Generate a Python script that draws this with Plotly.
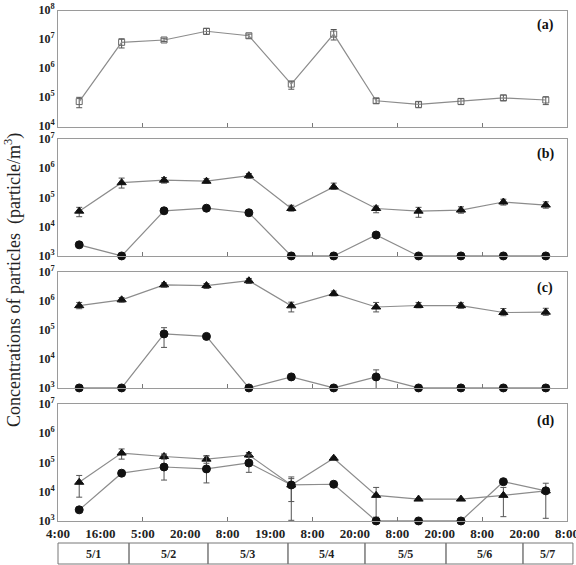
import plotly.graph_objects as go

# ---------------- data ----------------
x_pos = [0.5, 1.5, 2.5, 3.5, 4.5, 5.5, 6.5, 7.5, 8.5, 9.5, 10.5, 11.5]
x_tick_labels = ["4:00", "16:00", "5:00", "20:00", "8:00", "19:00", "8:00",
                 "20:00", "8:00", "20:00", "8:00", "20:00", "8:00"]
dates = ["5/1", "5/2", "5/3", "5/4", "5/5", "5/6", "5/7"]
date_edges = [0.0, 1.674, 3.536, 5.422, 7.237, 9.147, 10.962, 12.14]
panel_labels = ["(a)", "(b)", "(c)", "(d)"]

# panel (a)
a_val = [7.5e4, 8.3e6, 1.0e7, 2.0e7, 1.4e7, 3.0e5, 1.6e7, 8.0e4, 6.0e4, 7.6e4, 1.0e5, 8.5e4]
a_hi = [1.05e5, 1.1e7, 1.15e7, 2.5e7, 1.6e7, 3.8e5, 2.3e7, 9.5e4, 7.4e4, 9.5e4, 1.26e5, 1.1e5]
a_lo = [4.6e4, 5.3e6, 8.8e6, 1.55e7, 1.15e7, 2.0e5, 1.0e7, 6.5e4, 4.6e4, 5.9e4, 8.1e4, 5.9e4]

# panel (b)
b_tri = [3.4e4, 3.2e5, 3.9e5, 3.6e5, 5.6e5, 4.2e4, 2.3e5, 4.2e4, 3.4e4, 3.7e4, 7.0e4, 5.5e4]
b_tri_hi = [4.6e4, 4.6e5, 4.8e5, 4.4e5, 6.6e5, 5.4e4, 3.1e5, 5.1e4, 4.6e4, 4.8e4, 8.7e4, 7.1e4]
b_tri_lo = [2.2e4, 2.1e5, 3.1e5, 3.1e5, 4.5e5, 3.4e4, 1.9e5, 3.0e4, 2.1e4, 2.9e4, 5.5e4, 4.3e4]
b_cir = [2.4e3, 1.0e3, 3.5e4, 4.3e4, 3.0e4, 1.0e3, 1.0e3, 5.2e3, 1.0e3, 1.0e3, 1.0e3, 1.0e3]

# panel (c)
c_tri = [6.9e5, 1.1e6, 3.6e6, 3.4e6, 5.0e6, 6.8e5, 1.8e6, 6.2e5, 7.0e5, 6.9e5, 4.0e5, 4.1e5]
c_tri_hi = [8.9e5, 1.3e6, 4.2e6, 4.0e6, 6.0e6, 9.1e5, 2.2e6, 8.9e5, 8.9e5, 8.7e5, 5.5e5, 5.6e5]
c_tri_lo = [5.4e5, 9.1e5, 3.0e6, 2.7e6, 4.0e6, 4.2e5, 1.5e6, 4.2e5, 5.8e5, 5.6e5, 3.1e5, 3.2e5]
c_cir = [1.0e3, 1.0e3, 7.3e4, 6.0e4, 1.0e3, 2.4e3, 1.0e3, 2.4e3, 1.0e3, 1.0e3, 1.0e3, 1.0e3]
c_cir_hi = [1.0e3, 1.0e3, 1.2e5, 6.0e4, 1.0e3, 2.4e3, 1.0e3, 4.2e3, 1.0e3, 1.0e3, 1.0e3, 1.0e3]
c_cir_lo = [1.0e3, 1.0e3, 2.5e4, 6.0e4, 1.0e3, 2.4e3, 1.0e3, 7.0e2, 1.0e3, 1.0e3, 1.0e3, 1.0e3]

# panel (d)
d_tri = [2.1e4, 2.1e5, 1.6e5, 1.3e5, 1.8e5, 1.7e4, 1.4e5, 7.5e3, 5.6e3, 5.6e3, 7.5e3, 1.07e4]
d_tri_hi = [3.6e4, 2.9e5, 1.95e5, 1.7e5, 2.2e5, 3.2e4, 1.5e5, 1.4e4, 5.6e3, 5.6e3, 1.4e4, 1.95e4]
d_tri_lo = [6.5e3, 1.3e5, 1.3e5, 9.4e4, 1.5e5, 1.05e3, 1.3e5, 1.35e3, 5.6e3, 5.6e3, 1.4e3, 1.23e3]
d_cir = [2.4e3, 4.3e4, 7.0e4, 6.0e4, 9.6e4, 1.7e4, 1.8e4, 1.0e3, 1.0e3, 1.0e3, 2.2e4, 1.07e4]
d_cir_hi = [2.4e3, 4.3e4, 1.8e5, 1.66e5, 1.8e5, 2.8e4, 1.8e4, 1.0e3, 1.0e3, 1.0e3, 2.2e4, 1.07e4]
d_cir_lo = [2.4e3, 4.3e4, 2.5e4, 2.0e4, 4.6e4, 4.6e3, 1.8e4, 1.0e3, 1.0e3, 1.0e3, 2.2e4, 1.07e4]

# ---------------- styling ----------------
LINE = "#8c8c8c"
MARK = "#111111"
FRAME = "#9a9a9a"
SERIF = "Liberation Serif"

fig = go.Figure()


def err(vals, hi, lo):
    return dict(type="data", symmetric=False,
                array=[h - v for v, h in zip(vals, hi)],
                arrayminus=[v - l for v, l in zip(vals, lo)],
                color="#555555", thickness=1, width=3)


def add(vals, axis_idx, symbol, color, size, hi=None, lo=None):
    xa = "x" if axis_idx == 1 else f"x{axis_idx}"
    ya = "y" if axis_idx == 1 else f"y{axis_idx}"
    kw = {}
    if hi is not None:
        kw["error_y"] = err(vals, hi, lo)
    fig.add_trace(go.Scatter(
        x=x_pos, y=vals, xaxis=xa, yaxis=ya, mode="lines+markers",
        line=dict(color=LINE, width=1.2),
        marker=dict(symbol=symbol, size=size, color=color,
                    line=dict(color=color, width=1)),
        cliponaxis=False, showlegend=False, **kw))


add(a_val, 1, "square-open", "#666666", 6, a_hi, a_lo)
add(b_tri, 2, "triangle-up", MARK, 8, b_tri_hi, b_tri_lo)
add(b_cir, 2, "circle", MARK, 8)
add(c_tri, 3, "triangle-up", MARK, 8, c_tri_hi, c_tri_lo)
add(c_cir, 3, "circle", MARK, 8, c_cir_hi, c_cir_lo)
add(d_tri, 4, "triangle-up", MARK, 8, d_tri_hi, d_tri_lo)
add(d_cir, 4, "circle", MARK, 8, d_cir_hi, d_cir_lo)

# layout geometry (paper coords)
W, H = 576, 565
ML, MR, MT, MB = 58, 9, 11, 44
ph = H - MT - MB
def py(pix):
    return (H - MB - pix) / ph

domains = [(py(127), py(11)), (py(256), py(139)), (py(388), py(272)), (py(521), py(404))]
yranges = [(4, 8), (3, 7), (3, 7), (3, 7)]
label_shift = [-1, 0, 0, 0]
EPS = 0.002  # keep points lying on the bottom axis visible

layout = dict(width=W, height=H, margin=dict(l=ML, r=MR, t=MT, b=MB),
              paper_bgcolor="white", plot_bgcolor="white")

ytickfont = dict(family=SERIF, size=12, color="#222222", weight="bold")
xtickfont = dict(family=SERIF, size=13, color="#222222", weight="bold")
for i in range(4):
    sfx = "" if i == 0 else str(i + 1)
    lo_e, hi_e = yranges[i]
    tv = [10 ** e for e in range(lo_e, hi_e + 1)]
    tt = [f"10<sup>{e}</sup>" for e in range(lo_e, hi_e + 1)]
    layout["yaxis" + sfx] = dict(
        type="log", range=[lo_e - EPS, hi_e], domain=list(domains[i]),
        anchor="x" + sfx, tickvals=tv, ticktext=tt, ticks="",
        ticklabelshift=label_shift[i], automargin=False,
        ticklabeloverflow="allow",
        showgrid=False, zeroline=False, showline=True, linecolor=FRAME,
        linewidth=1, mirror=True, tickfont=ytickfont)
    layout["xaxis" + sfx] = dict(
        range=[0, 12], domain=[0, 1], anchor="y" + sfx, automargin=False,
        ticklabeloverflow="allow",
        tickvals=list(range(13)), ticktext=x_tick_labels,
        showticklabels=(i == 3), ticks="", showgrid=False, zeroline=False,
        showline=True, linecolor=FRAME, linewidth=1, mirror=True,
        tickfont=xtickfont,
        minor=dict(tickvals=[2, 4, 6, 8, 10], ticks="inside", ticklen=4,
                   tickcolor="#777777", showgrid=False))

fig.update_layout(**layout)

# panel labels
label_y = [25, 154, 288, 421]
for lab, yy in zip(panel_labels, label_y):
    fig.add_annotation(text=lab, xref="paper", yref="paper",
                       x=(545 - ML) / (W - ML - MR), y=py(yy),
                       xanchor="center", yanchor="middle", showarrow=False,
                       font=dict(family=SERIF, size=14, color="#111111", weight="bold"))

# y title
fig.add_annotation(text="Concentrations of particles&nbsp;&nbsp;(particle/m<sup>3</sup>)",
                   xref="paper", yref="paper", x=(13 - ML) / (W - ML - MR), y=py(280),
                   textangle=-90, showarrow=False, xanchor="center", yanchor="middle",
                   font=dict(family=SERIF, size=18, color="#222222"))

# date boxes
y_top, y_bot = py(543), py(564)
for k, d in enumerate(dates):
    x0 = date_edges[k] / 12
    x1 = date_edges[k + 1] / 12
    fig.add_shape(type="rect", xref="paper", yref="paper", x0=x0, x1=x1,
                  y0=y_bot, y1=y_top, line=dict(color="#777777", width=1),
                  fillcolor="rgba(0,0,0,0)")
    fig.add_annotation(text=d, xref="paper", yref="paper", x=(x0 + x1) / 2,
                       y=(y_top + y_bot) / 2, xanchor="center", yanchor="middle",
                       showarrow=False,
                       font=dict(family=SERIF, size=12, color="#222222", weight="bold"))

fig.write_html("out.html")
